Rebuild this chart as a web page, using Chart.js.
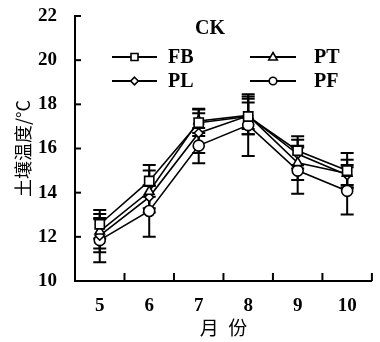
<!DOCTYPE html>
<html>
<head>
<meta charset="utf-8">
<script src="https://cdn.jsdelivr.net/npm/chart.js@4/dist/chart.umd.min.js"></script>
<style>
html,body{margin:0;padding:0;background:#fff;}
canvas{display:block;}
</style>
</head>
<body>
<canvas id="c" width="380" height="342"></canvas>
<script>
const months = ['5', '6', '7', '8', '9', '10'];
const yTicks = [10, 12, 14, 16, 18, 20, 22];
const seriesNames = ['FB', 'PT', 'PL', 'PF'];
const FB = [12.57, 14.53, 17.17, 17.45, 15.90, 15.00];
const PT = [12.25, 14.05, 17.25, 17.50, 15.35, 14.87];
const PL = [12.05, 13.80, 16.70, 17.48, 15.75, 14.80];
const PF = [11.85, 13.17, 16.13, 17.06, 15.00, 14.08];
const FB_err = [0.65, 0.72, 0.60, 0.80, 0.65, 0.80];
const PT_err = [0.78, 0.95, 0.55, 0.85, 0.78, 0.62];
const PL_err = [0.75, 0.50, 0.90, 0.60, 0.65, 0.45];
const PF_err = [1.00, 1.17, 0.80, 1.40, 1.05, 1.07];
const panelTitle = 'CK';
const xTitle = '月\u2002份';
const yTitle = '土壤温度/°C';

const SERIF = '"Liberation Serif", "Times New Roman", serif';
const CJK = '"Noto Sans CJK SC", sans-serif';

const styles = [
  {pointStyle: 'rect', radius: 6.5},
  {pointStyle: 'triangle', radius: 5.5},
  {pointStyle: 'rectRot', radius: 4.5},
  {pointStyle: 'circle', radius: 5.5}
];
const values = [FB, PT, PL, PF];
const errors = [FB_err, PT_err, PL_err, PF_err];

const datasets = seriesNames.map((name, i) => ({
  label: name,
  data: values[i],
  errors: errors[i],
  borderColor: '#000',
  borderWidth: 1.6,
  backgroundColor: '#fff',
  pointBackgroundColor: '#fff',
  pointBorderColor: '#000',
  pointBorderWidth: 1.6,
  pointStyle: styles[i].pointStyle,
  pointRadius: styles[i].radius,
  tension: 0,
  order: i
}));

const errorBars = {
  id: 'errorBars',
  beforeDatasetsDraw(chart) {
    const ctx = chart.ctx;
    const xs = chart.scales.x, ys = chart.scales.y;
    ctx.save();
    ctx.strokeStyle = '#000';
    ctx.lineWidth = 2;
    chart.data.datasets.forEach(ds => {
      ds.data.forEach((v, j) => {
        const e = ds.errors[j];
        const x = xs.getPixelForValue(j);
        const yt = ys.getPixelForValue(v + e);
        const yb = ys.getPixelForValue(v - e);
        const w = 6.5;
        ctx.beginPath();
        ctx.moveTo(x, yt); ctx.lineTo(x, yb);
        ctx.moveTo(x - w, yt); ctx.lineTo(x + w, yt);
        ctx.moveTo(x - w, yb); ctx.lineTo(x + w, yb);
        ctx.stroke();
      });
    });
    ctx.restore();
  }
};

function drawMarker(ctx, style, x, y, r) {
  ctx.beginPath();
  if (style === 'rect') {
    ctx.rect(x - r, y - r, 2 * r, 2 * r);
  } else if (style === 'triangle') {
    ctx.moveTo(x, y - r);
    ctx.lineTo(x + r * 0.95, y + r * 0.65);
    ctx.lineTo(x - r * 0.95, y + r * 0.65);
    ctx.closePath();
  } else if (style === 'rectRot') {
    ctx.moveTo(x, y - r); ctx.lineTo(x + r, y); ctx.lineTo(x, y + r); ctx.lineTo(x - r, y);
    ctx.closePath();
  } else {
    ctx.arc(x, y, r, 0, Math.PI * 2);
  }
  ctx.fillStyle = '#fff';
  ctx.fill();
  ctx.stroke();
}

const decor = {
  id: 'decor',
  afterDraw(chart) {
    const ctx = chart.ctx;
    const xs = chart.scales.x, ys = chart.scales.y;
    const area = chart.chartArea;
    ctx.save();
    ctx.strokeStyle = '#000';
    ctx.lineWidth = 2;
    yTicks.forEach(t => {
      const y = ys.getPixelForValue(t);
      ctx.beginPath();
      ctx.moveTo(area.left, y); ctx.lineTo(area.left + 6, y);
      ctx.stroke();
    });
    for (let j = 0; j < months.length; j++) {
      const x = (xs.getPixelForValue(j) + xs.getPixelForValue(j + 1)) / 2;
      ctx.beginPath();
      ctx.moveTo(x, area.bottom); ctx.lineTo(x, area.bottom - 8);
      ctx.stroke();
    }
    ctx.fillStyle = '#000';
    ctx.font = 'bold 20px ' + SERIF;
    ctx.textAlign = 'center';
    ctx.textBaseline = 'middle';
    ctx.fillText(panelTitle, 210, 29);
    const pos = [
      {x1: 112, x2: 157, y: 57, tx: 168},
      {x1: 250, x2: 296, y: 57, tx: 314},
      {x1: 112, x2: 157, y: 81, tx: 168},
      {x1: 250, x2: 296, y: 81, tx: 314}
    ];
    const legR = [3.5, 4.5, 3.8, 3.8];
    chart.data.datasets.forEach((ds, i) => {
      const p = pos[i];
      ctx.lineWidth = 2;
      ctx.beginPath();
      ctx.moveTo(p.x1, p.y); ctx.lineTo(p.x2, p.y);
      ctx.stroke();
      ctx.lineWidth = 1.6;
      drawMarker(ctx, ds.pointStyle, (p.x1 + p.x2) / 2, p.y, legR[i]);
      ctx.fillStyle = '#000';
      ctx.font = 'bold 20px ' + SERIF;
      ctx.textAlign = 'left';
      ctx.textBaseline = 'middle';
      ctx.fillText(ds.label, p.tx, p.y + 1);
    });
    ctx.restore();
  }
};

new Chart(document.getElementById('c'), {
  type: 'line',
  data: {labels: months, datasets: datasets},
  options: {
    responsive: false,
    devicePixelRatio: 1,
    animation: false,
    layout: {padding: {left: 0, top: 16, right: 3, bottom: 0}},
    plugins: {legend: {display: false}, tooltip: {enabled: false}},
    scales: {
      x: {
        type: 'category',
        offset: true,
        grid: {display: true, drawOnChartArea: false, drawTicks: false, color: 'rgba(0,0,0,0)'},
        border: {display: true, color: '#000', width: 2},
        ticks: {color: '#000', font: {family: SERIF, size: 19, weight: 'bold'}, padding: 14, maxRotation: 0},
        title: {display: true, text: xTitle, color: '#000', font: {family: CJK, size: 19}, padding: {top: 0, bottom: 3}},
        afterFit(scale) { scale.height = 61; scale.paddingLeft = 0; scale.paddingRight = 0; }
      },
      y: {
        min: 10, max: 22,
        afterBuildTicks(scale) { scale.ticks = yTicks.map(v => ({value: v})); },
        grid: {display: true, drawOnChartArea: false, drawTicks: false, color: 'rgba(0,0,0,0)'},
        border: {display: true, color: '#000', width: 2},
        ticks: {color: '#000', font: {family: SERIF, size: 19, weight: 'bold'}, padding: 18},
        title: {display: true, text: yTitle, color: '#000', font: {family: CJK, size: 18}, padding: {top: 12, bottom: 0}},
        afterFit(scale) { scale.width = 75; scale.paddingTop = 0; scale.paddingBottom = 0; }
      }
    }
  },
  plugins: [errorBars, decor]
});
</script>
</body>
</html>
